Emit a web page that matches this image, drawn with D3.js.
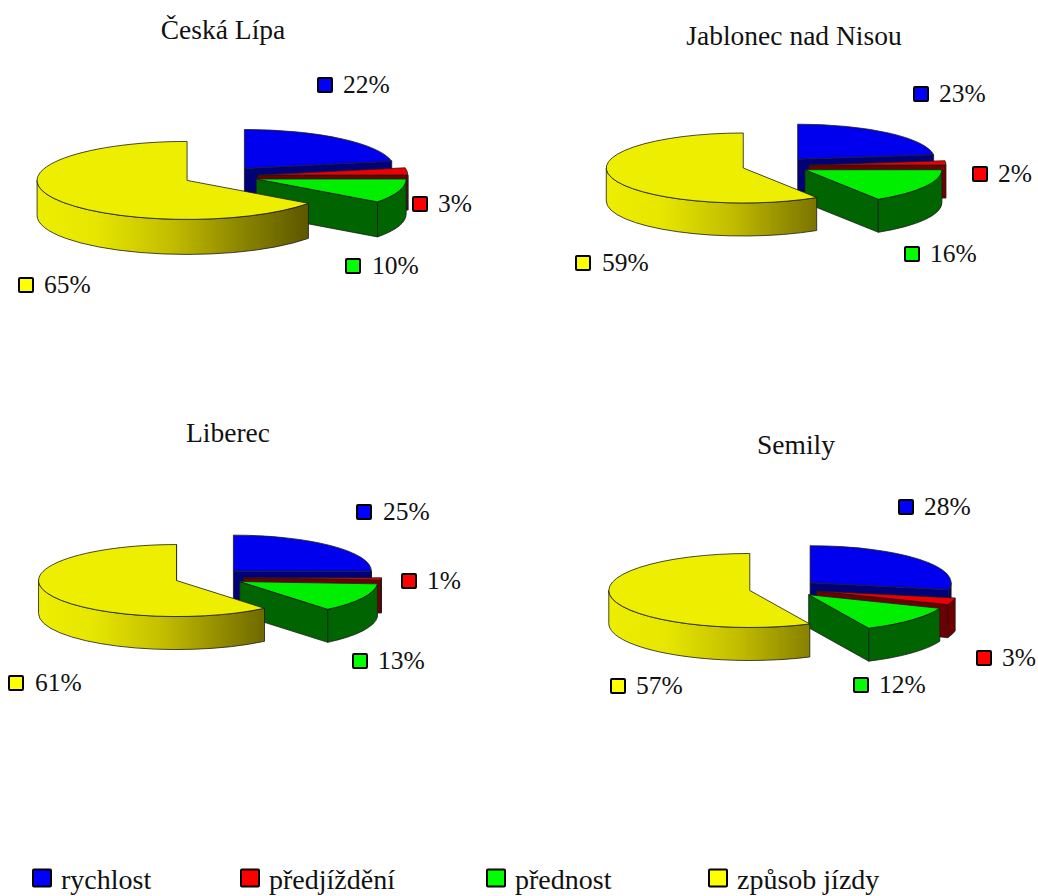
<!DOCTYPE html>
<html>
<head>
<meta charset="utf-8">
<script src="https://cdn.jsdelivr.net/npm/d3@7/dist/d3.min.js"></script>
<style>
html,body{margin:0;padding:0;background:#fff;}
svg{display:block;}
text{font-family:"Liberation Serif",serif;fill:#111;}
</style>
</head>
<body>
<svg id="chart" width="1038" height="896"></svg>
<script>
// Traffic accident causes by district
const categories = ["rychlost", "předjíždění", "přednost", "způsob jízdy"];
const districts = ["Česká Lípa", "Jablonec nad Nisou", "Liberec", "Semily"];
const valuesCeskaLipa = [22, 3, 10, 65];
const valuesJablonec = [23, 2, 16, 59];
const valuesLiberec = [25, 1, 13, 61];
const valuesSemily = [28, 3, 12, 57];
const districtValues = [valuesCeskaLipa, valuesJablonec, valuesLiberec, valuesSemily];

const topColors = ["#0000ee", "#ee0000", "#00ee00", "#eeee00"];
const sideColors = ["#000078", "#700000", "#006400", "#6a6400"];
const keyColors = ["#0000ff", "#ff0000", "#00ff00", "#ffff00"];

// Pie geometry: centre, radii of the tilted ellipse, wall height, slice pull-out
const pieLayout = [
  {cx: 220.5, cy: 176, rx: 150, ry: 39, depth: 35, pull: 0.25, titleX: 223, titleY: 39},
  {cx: 775.5, cy: 165.6, rx: 137, ry: 35, depth: 33, pull: 0.245, titleX: 794, titleY: 45},
  {cx: 209, cy: 577.5, rx: 138, ry: 36, depth: 33, pull: 0.25, titleX: 228, titleY: 442},
  {cx: 783.5, cy: 588.5, rx: 141, ry: 37, depth: 33, pull: 0.245, titleX: 796, titleY: 454}
];
// Data label anchors per pie: [marker left, marker centre y, text left]
const labelLayout = [
  [[317, 85, 343], [412, 204, 438], [345, 266, 372], [18, 285, 44]],
  [[913, 94, 939], [972, 174, 998], [904, 254, 930], [575, 263, 602]],
  [[356, 512, 383], [401, 581, 427], [352, 661, 378], [8, 683, 35]],
  [[898, 507, 924], [976, 658, 1002], [853, 685, 879], [610, 686, 636]]
];
const legendX = [32, 240, 486, 708];

const svg = d3.select("#chart");
const defs = svg.append("defs");
const pie = d3.pie().sort(null).startAngle(0).endAngle(2 * Math.PI);
const topFill = d3.scaleOrdinal(categories, topColors);
const sideFill = d3.scaleOrdinal(categories, sideColors);
const keyFill = d3.scaleOrdinal(categories, keyColors);
const edge = "#1a1a1a";

districtValues.forEach((values, i) => {
  const g = pieLayout[i];
  const arcs = pie(values);
  const chart = svg.append("g").attr("class", "pie");

  // Shaded wall of the largest slice runs from lit on the left to dark on the right
  const left = g.cx - g.rx * (1 + g.pull);
  const grad = defs.append("linearGradient")
    .attr("id", "rim" + i)
    .attr("gradientUnits", "userSpaceOnUse")
    .attr("x1", left).attr("x2", left + g.rx * 1.82)
    .attr("y1", 0).attr("y2", 0);
  [[0, "#eeee00"], [0.23, "#e6e600"], [0.5, "#c4be00"], [0.75, "#8e8800"], [1, "#5e5800"]]
    .forEach(([o, c]) => grad.append("stop").attr("offset", o).attr("stop-color", c));

  arcs.forEach((a, k) => {
    const mid = (a.startAngle + a.endAngle) / 2;
    const ax = g.cx + g.rx * g.pull * Math.sin(mid);
    const ay = g.cy - g.ry * g.pull * Math.cos(mid);
    const px = t => ax + g.rx * Math.sin(t);
    const py = t => ay - g.ry * Math.cos(t);
    const cat = categories[k];
    const piece = chart.append("g").attr("class", "slice");
    const face = (d, fill) => piece.append("path").attr("d", d)
      .attr("fill", fill).attr("stroke", edge).attr("stroke-width", 0.8)
      .attr("stroke-linejoin", "round");

    const wall = t => `M${ax},${ay}L${px(t)},${py(t)}L${px(t)},${py(t) + g.depth}L${ax},${ay + g.depth}Z`;
    // Cut faces turned towards the viewer
    if (Math.sin(a.startAngle) < 0) face(wall(a.startAngle), sideFill(cat));
    if (Math.sin(a.endAngle) > 0) face(wall(a.endAngle), sideFill(cat));

    // Outer rim, only along the front half of the ellipse
    const t0 = Math.max(a.startAngle, Math.PI / 2);
    const t1 = Math.min(a.endAngle, 1.5 * Math.PI);
    if (t1 > t0) {
      const rim = `M${px(t0)},${py(t0)}A${g.rx},${g.ry} 0 0 1 ${px(t1)},${py(t1)}` +
        `L${px(t1)},${py(t1) + g.depth}A${g.rx},${g.ry} 0 0 0 ${px(t0)},${py(t0) + g.depth}Z`;
      face(rim, k === 3 ? `url(#rim${i})` : sideFill(cat));
    }

    // Top face
    const large = a.endAngle - a.startAngle > Math.PI ? 1 : 0;
    face(`M${ax},${ay}L${px(a.startAngle)},${py(a.startAngle)}` +
      `A${g.rx},${g.ry} 0 ${large} 1 ${px(a.endAngle)},${py(a.endAngle)}Z`, topFill(cat));
  });

  // District title
  chart.append("text")
    .attr("x", g.titleX).attr("y", g.titleY)
    .attr("text-anchor", "middle").attr("font-size", 27.5)
    .text(districts[i]);

  // Percentage labels with colour keys
  values.forEach((v, k) => {
    const [mx, my, tx] = labelLayout[i][k];
    chart.append("rect")
      .attr("x", mx + 1).attr("y", my - 7)
      .attr("width", 14).attr("height", 14).attr("rx", 1)
      .attr("fill", keyFill(categories[k]))
      .attr("stroke", "#000").attr("stroke-width", 2);
    chart.append("text")
      .attr("x", tx).attr("y", my + 8)
      .attr("font-size", 25.5)
      .text(v + "%");
  });
});

// Shared legend
const legend = svg.append("g").attr("class", "legend");
categories.forEach((c, k) => {
  legend.append("rect")
    .attr("x", legendX[k] + 1).attr("y", 869.5)
    .attr("width", 18).attr("height", 17).attr("rx", 1)
    .attr("fill", keyFill(c))
    .attr("stroke", "#000").attr("stroke-width", 2);
  legend.append("text")
    .attr("x", legendX[k] + 29).attr("y", 889)
    .attr("font-size", 28)
    .text(c);
});
</script>
</body>
</html>
